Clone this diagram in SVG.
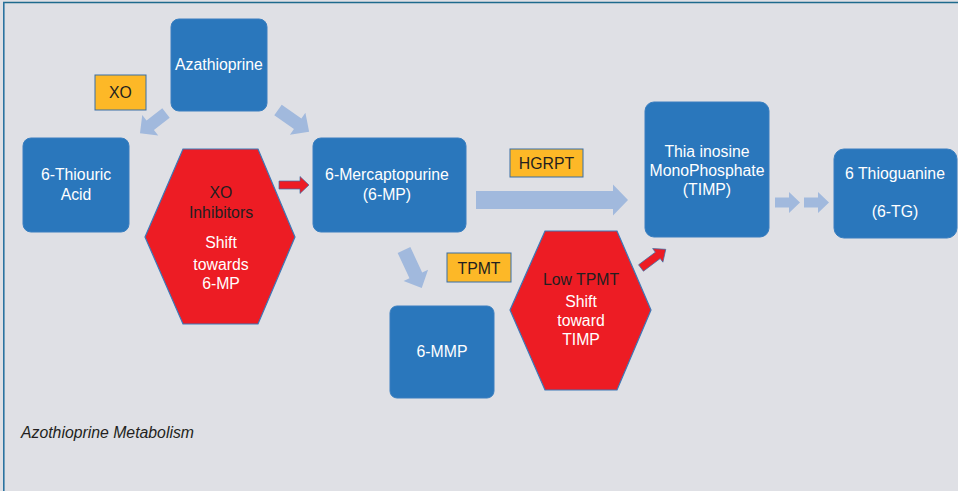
<svg xmlns="http://www.w3.org/2000/svg" width="958" height="491" viewBox="0 0 958 491">
<style>
.box{fill:#2A77BC;stroke:#3A7FC0;stroke-width:1}
.hex{fill:#ED1C24;stroke:#3C78B8;stroke-width:1.2}
.lbl{fill:#FDB827;stroke:#3A6EA5;stroke-width:1}
.t{font-family:"Liberation Sans",Arial,sans-serif;font-size:15.8px;text-anchor:middle}
.w{fill:#FFFFFF}
.d{fill:#231F20}
.arr{fill:#A1B9DD}
.red{fill:#ED1C24;stroke:#3C6FA8;stroke-width:0.7}
</style>
<rect x="0" y="0" width="958" height="491" fill="#DFE0E5"/>
<line x1="3" y1="2.5" x2="958" y2="2.5" stroke="#1E6A8D" stroke-width="1.6"/>
<line x1="3.8" y1="2" x2="3.8" y2="491" stroke="#2B73A0" stroke-width="1.6"/>

<g id="connectors">
  <path class="arr" transform="translate(166,113) rotate(142)" d="M0,-6 L20,-6 L20,-13 L33,0 L20,13 L20,6 L0,6 Z"/>
  <path class="arr" transform="translate(278,110) rotate(35)" d="M0,-6.5 L24,-6.5 L24,-13.5 L38,0 L24,13.5 L24,6.5 L0,6.5 Z"/>
  <path class="red" transform="translate(279,185)" d="M0,-4 L21,-4 L21,-8.5 L30,0 L21,8.5 L21,4 L0,4 Z"/>
  <path class="arr" transform="translate(476,200)" d="M0,-9 L137,-9 L137,-15.5 L152,0 L137,15.5 L137,9 L0,9 Z"/>
  <path class="arr" transform="translate(404,250) rotate(65)" d="M0,-7 L28,-7 L28,-13.5 L42,0 L28,13.5 L28,7 L0,7 Z"/>
  <path class="red" transform="translate(641,268) rotate(-37)" d="M0,-4 L21,-4 L21,-8.5 L31,0 L21,8.5 L21,4 L0,4 Z"/>
  <path class="arr" transform="translate(775,202.5)" d="M0,-5 L14,-5 L14,-10.5 L25,0 L14,10.5 L14,5 L0,5 Z"/>
  <path class="arr" transform="translate(804,202.5)" d="M0,-5 L14,-5 L14,-10.5 L25,0 L14,10.5 L14,5 L0,5 Z"/>
</g>

<g id="azathioprine">
  <rect class="box" x="171" y="19" width="96" height="92" rx="8"/>
  <text class="t w" x="219" y="70">Azathioprine</text>
</g>
<g id="xo-label">
  <rect class="lbl" x="95" y="75" width="51" height="35"/>
  <text class="t d" x="120.5" y="98">XO</text>
</g>
<g id="thiouric-acid">
  <rect class="box" x="23" y="138" width="106" height="94" rx="8"/>
  <text class="t w" x="76" y="180">6-Thiouric</text>
  <text class="t w" x="76" y="200">Acid</text>
</g>
<g id="xo-inhibitors">
  <polygon class="hex" points="183,149 258,149 295,237 258,324 183,324 145,237"/>
  <text class="t d" x="221" y="198">XO</text>
  <text class="t d" x="221" y="218">Inhibitors</text>
  <text class="t w" x="221" y="248">Shift</text>
  <text class="t w" x="221" y="270">towards</text>
  <text class="t w" x="221" y="289">6-MP</text>
</g>
<g id="mercaptopurine">
  <rect class="box" x="313" y="138" width="153" height="94" rx="8"/>
  <text class="t w" x="387" y="180">6-Mercaptopurine</text>
  <text class="t w" x="387" y="200">(6-MP)</text>
</g>
<g id="hgrpt-label">
  <rect class="lbl" x="510" y="149" width="73" height="28"/>
  <text class="t d" x="546.5" y="169">HGRPT</text>
</g>
<g id="timp">
  <rect class="box" x="645" y="102" width="124" height="135" rx="9"/>
  <text class="t w" x="707" y="157">Thia inosine</text>
  <text class="t w" x="707" y="176">MonoPhosphate</text>
  <text class="t w" x="707" y="195">(TIMP)</text>
</g>
<g id="thioguanine">
  <rect class="box" x="834" y="149" width="123" height="89" rx="10"/>
  <text class="t w" x="895" y="179">6 Thioguanine</text>
  <text class="t w" x="895" y="217">(6-TG)</text>
</g>
<g id="tpmt-label">
  <rect class="lbl" x="447" y="253" width="64" height="29"/>
  <text class="t d" x="479" y="274">TPMT</text>
</g>
<g id="mmp">
  <rect class="box" x="390" y="306" width="104" height="92" rx="7"/>
  <text class="t w" x="442" y="357">6-MMP</text>
</g>
<g id="low-tpmt">
  <polygon class="hex" points="545,231 617,231 651,310 617,390 545,390 510,310"/>
  <text class="t d" x="581" y="285">Low TPMT</text>
  <text class="t w" x="581" y="307">Shift</text>
  <text class="t w" x="581" y="326">toward</text>
  <text class="t w" x="581" y="345">TIMP</text>
</g>
<text x="21" y="438" font-family="'Liberation Sans',Arial,sans-serif" font-size="15.8" font-style="italic" fill="#231F20">Azothioprine Metabolism</text>
</svg>
